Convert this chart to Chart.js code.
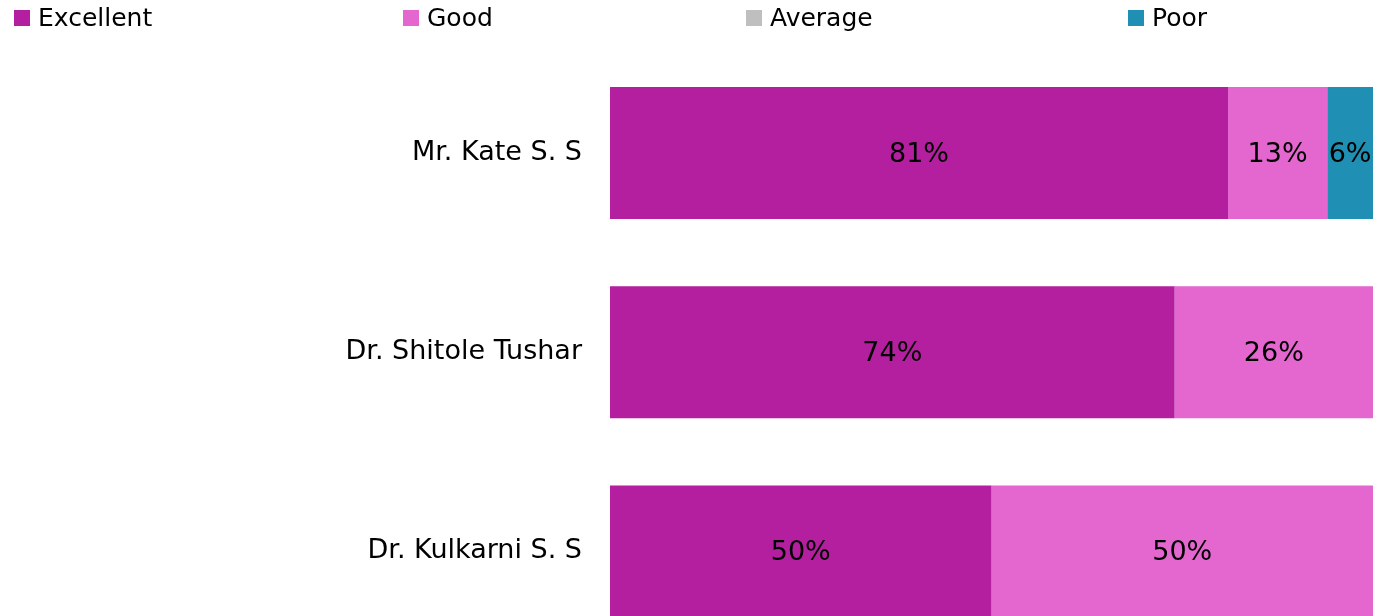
<!DOCTYPE html>
<html>
<head>
<meta charset="utf-8">
<script src="https://cdn.jsdelivr.net/npm/chart.js@4"></script>
<style>
    html, body { margin: 0; padding: 0; background: #fff; overflow: hidden; }
    #wrap { position: relative; width: 1380px; height: 651px; }
    .item {
        position: absolute; top: 3px; display: flex; align-items: center; white-space: nowrap;
        font-family: "DejaVu Sans", sans-serif; font-size: 25px; color: #000;
    }
    .swatch { width: 16px; height: 16px; margin-right: 8px; }
</style>
</head>
<body>
<div id="wrap">
    <canvas id="chart"></canvas>
</div>
<script>
const names = ['Mr. Kate S. S', 'Dr. Shitole Tushar', 'Dr. Kulkarni S. S'];
const excellent = [81, 74, 50];
const good = [13, 26, 50];
const average = [0, 0, 0];
const poor = [6, 0, 0];

const seriesNames = ['Excellent', 'Good', 'Average', 'Poor'];
const seriesColors = ['#b41f9f', '#e466cf', '#bfbfbf', '#1f8fb4'];
const seriesData = [excellent, good, average, poor];
const legendLeft = [14, 403, 746, 1128];

const FONT = '"DejaVu Sans", sans-serif';

// percent labels in the middle of each segment
const barLabels = {
    id: 'barLabels',
    afterDatasetsDraw(chart) {
        const ctx = chart.ctx;
        ctx.save();
        ctx.font = '27px ' + FONT;
        ctx.fillStyle = '#000';
        ctx.textAlign = 'center';
        ctx.textBaseline = 'middle';
        chart.data.datasets.forEach((ds, i) => {
            chart.getDatasetMeta(i).data.forEach((bar, j) => {
                const v = ds.data[j];
                if (!v) return;
                const p = bar.getProps(['x', 'y', 'base'], true);
                ctx.fillText(v + '%', (p.x + p.base) / 2, p.y + 1.5);
            });
        });
        ctx.restore();
    }
};

const wrap = document.getElementById('wrap');
seriesNames.forEach((n, i) => {
    const el = document.createElement('div');
    el.className = 'item';
    el.style.left = legendLeft[i] + 'px';
    el.innerHTML = `<div class="swatch" style="background:${seriesColors[i]}"></div>${n}`;
    wrap.appendChild(el);
});

new Chart(document.getElementById('chart'), {
    type: 'bar',
    data: {
        labels: names,
        datasets: seriesNames.map((n, i) => ({
            label: n,
            data: seriesData[i],
            backgroundColor: seriesColors[i],
            borderWidth: 0,
            categoryPercentage: 1,
            barPercentage: 0.663
        }))
    },
    options: {
        indexAxis: 'y',
        responsive: true,
        maintainAspectRatio: false,
        animation: false,
        layout: { padding: { top: 53.5, right: 7, bottom: 0, left: 0 } },
        plugins: {
            legend: { display: false },
            tooltip: { enabled: false }
        },
        scales: {
            x: {
                stacked: true,
                min: 0,
                max: 100,
                display: false
            },
            y: {
                stacked: true,
                grid: { display: false, drawTicks: false },
                border: { display: false },
                ticks: {
                    color: '#000',
                    padding: 28,
                    font: { family: FONT, size: 27 }
                },
                afterFit(scale) {
                    // fixed axis width, and no extra label padding above/below the bars
                    scale.width = 610;
                    scale.paddingTop = 0;
                    scale.paddingBottom = 0;
                }
            }
        }
    },
    plugins: [barLabels]
});
</script>
</body>
</html>
